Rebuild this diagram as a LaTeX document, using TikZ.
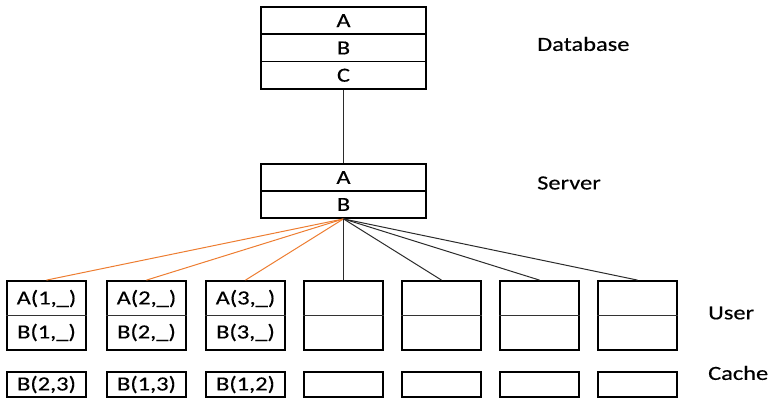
\documentclass[tikz,border=0pt]{standalone}
\usepackage{fontspec}
\usetikzlibrary{calc}
\setmainfont[FakeStretch=1.22,FakeBold=0.4]{Carlito}
\definecolor{conorange}{HTML}{ED7D31}
\definecolor{condark}{HTML}{2B2B2B}
\begin{document}
\begin{tikzpicture}[x=1pt,y=-1pt,
  txt/.style={font=\fontsize{20}{23}\selectfont},
  cell/.style={draw=black,line width=1.8pt,minimum width=165pt,minimum height=27.3pt,inner sep=0pt,txt},
  ubox/.style={draw=black,line width=1.8pt,minimum width=79pt,minimum height=69pt,inner sep=0pt},
  cbox/.style={draw=black,line width=1.8pt,minimum width=79pt,minimum height=25pt,inner sep=0pt,txt},
  divider/.style={line width=0.9pt,draw=black!80},
  orangeline/.style={draw=conorange,line width=1pt},
  darkline/.style={draw=condark,line width=1pt},
  lbl/.style={txt,anchor=west,inner sep=0pt}]
\useasboundingbox (0,0) rectangle (772,398);
% Database
\node[cell] (dba) at (343.5,20.65) {A};
\node[cell] (dbb) at (343.5,47.95) {B};
\node[cell] (dbc) at (343.5,75.25) {C};
% Server
\node[cell,minimum height=27pt] (sva) at (343.5,177.5) {A};
\node[cell,minimum height=27pt] (svb) at (343.5,204.5) {B};
\draw[darkline] (dbc.south) -- (sva.north);
% Users
\foreach \i/\x in {1/46.5,2/146.5,3/245.5,4/343.5,5/441.5,6/539.5,7/637.5}{
  \node[ubox] (u\i) at (\x,315.5) {};
  \draw[divider] (u\i.west) -- (u\i.east);
  \node[cbox] (c\i) at (\x,384.5) {};
}
\foreach \i in {1,2,3}{
  \node[txt,inner sep=0pt] (ua\i) at ($(u\i.center)+(0,-17)$) {A(\i,\_)};
  \node[txt,inner sep=0pt] (ub\i) at ($(u\i.center)+(0,17)$) {B(\i,\_)};
}
\node[txt,inner sep=0pt] (ct1) at (c1.center) {B(2,3)};
\node[txt,inner sep=0pt] (ct2) at (c2.center) {B(1,3)};
\node[txt,inner sep=0pt] (ct3) at (c3.center) {B(1,2)};
% Connectors
\foreach \i in {1,2,3}{\draw[orangeline] (svb.south) -- (u\i.north);}
\foreach \i in {4,5,6,7}{\draw[darkline] (svb.south) -- (u\i.north);}
% Labels
\node[lbl] (ldb) at (537,44) {Database};
\node[lbl] (lsv) at (537,183) {Server};
\node[lbl] (lus) at (708,313) {User};
\node[lbl] (lca) at (708,373) {Cache};
\end{tikzpicture}
\end{document}
